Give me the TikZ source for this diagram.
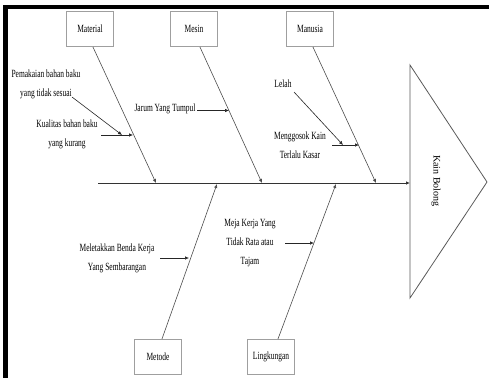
\documentclass[tikz,border=0pt]{standalone}
\usepackage{fontspec}
\setmainfont{Liberation Serif}[FakeStretch=0.68]
\newfontfamily\headfont{Liberation Serif}
\usetikzlibrary{arrows.meta}
\begin{document}
\begin{tikzpicture}[x=1pt,y=-1pt,
  cat/.style={draw=gray!75, line width=1.2pt, minimum width=47pt, minimum height=35pt, inner sep=1pt, font=\fontsize{11}{12}\selectfont},
  bone/.style={draw=gray!60!black, line width=0.6pt, -{Latex[length=4pt,width=3.5pt]}},
  spine/.style={draw=black!80, line width=0.9pt, -{Latex[length=4pt,width=3.5pt]}},
  sub/.style={draw=black!85, line width=0.6pt, -{Latex[length=4pt,width=3.5pt]}},
  cause/.style={align=center, font=\fontsize{11}{19}\selectfont, inner sep=0pt}]
\useasboundingbox (0,0) rectangle (489,378);
% frame
\fill[black] (3,5) rectangle (489,9);
\fill[black] (3,5) rectangle (8,378);
% category boxes
\node[cat] (mat) at (90,29) {Material};
\node[cat] (mes) at (194,29) {Mesin};
\node[cat] (man) at (310,29) {Manusia};
\node[cat] (met) at (158,357) {Metode};
\node[cat] (lin) at (271,357) {Lingkungan};
% head
\coordinate (ht) at (410,65);
\coordinate (ha) at (487,182);
\coordinate (hb) at (410,298);
\draw[gray!70!black, line width=0.8pt] (ht) -- (ha) -- (hb) -- cycle;
\node[rotate=-90, font=\headfont\fontsize{10}{12}\selectfont] (eff) at (436,181) {Kain Bolong};
% spine
\coordinate (s0) at (98,183);
\coordinate (s1) at (410,183);
\draw[spine] (s0) -- (s1);
% bone ends on spine
\coordinate (p1) at (156,183);
\coordinate (p2) at (262,183);
\coordinate (p3) at (376,183);
\coordinate (p4) at (217,184);
\coordinate (p5) at (336,184);
\draw[bone] ([xshift=3pt]mat.south) -- (p1);
\draw[bone] ([xshift=6pt]mes.south) -- (p2);
\draw[bone] ([xshift=3pt]man.south) -- (p3);
\draw[bone] ([xshift=4pt]met.north) -- (p4);
\draw[bone] ([xshift=7pt]lin.north) -- (p5);
% Material causes
\node[cause] (pem) at (46,84) {Pemakaian bahan baku\\yang tidak sesuai};
\node[cause] (kual) at (67,134) {Kualitas bahan baku\\yang kurang};
\coordinate (k0) at (101,135);
\coordinate (k1) at (133,135);
\coordinate (k2) at (122,135);
\coordinate (pe0) at (72,97);
\draw[sub] (k0) -- (k1);
\draw[sub] (pe0) -- (k2);
% Mesin cause
\node[cause] (jar) at (165,109) {Jarum Yang Tumpul};
\coordinate (j0) at (197,110.5);
\coordinate (j1) at (229,110.5);
\draw[sub] (j0) -- (j1);
% Manusia causes
\node[cause] (lel) at (283,84) {Lelah};
\node[cause] (meng) at (300,145) {Menggosok Kain\\Terlalu Kasar};
\coordinate (l0) at (294,92);
\coordinate (g2) at (343,145);
\coordinate (g0) at (332,145);
\coordinate (g1) at (359,145);
\draw[sub] (g0) -- (g1);
\draw[sub] (l0) -- (g2);
% Metode cause
\node[cause] (mel) at (117,258) {Meletakkan Benda Kerja\\Yang Sembarangan};
\coordinate (q0) at (160,258);
\coordinate (q1) at (189,258);
\draw[sub] (q0) -- (q1);
% Lingkungan cause
\node[cause] (mej) at (250,243) {Meja Kerja Yang\\Tidak Rata atau\\Tajam};
\coordinate (r0) at (285,243);
\coordinate (r1) at (314,243);
\draw[sub] (r0) -- (r1);
\end{tikzpicture}
\end{document}
